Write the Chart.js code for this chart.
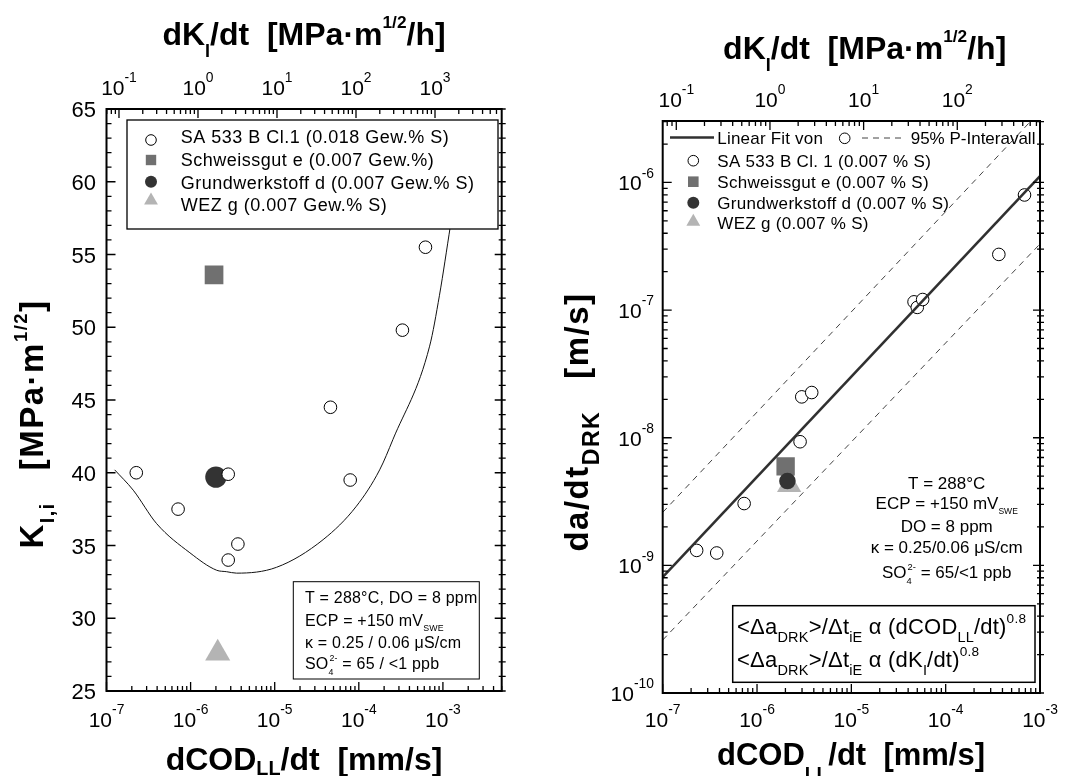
<!DOCTYPE html>
<html>
<head>
<meta charset="utf-8">
<title>K_I,i und da/dt über dCOD/dt</title>
<script src="https://cdn.jsdelivr.net/npm/chart.js@4.4.1/dist/chart.umd.min.js"></script>
<style>
  html, body { margin: 0; padding: 0; background: #fff; }
  #wrap { position: relative; width: 1066px; height: 776px; }
  canvas { position: absolute; left: 0; top: 0; }
</style>
</head>
<body>
<div id="wrap">
  <canvas id="kChart" width="1066" height="776"></canvas>
  <canvas id="vChart" width="1066" height="776"></canvas>
</div>
<script>
'use strict';

// ---- left panel: K_I,i vs. dCOD_LL/dt ----
const saKx = [2.26e-7, 7.1e-7, 2.8e-6, 2.8e-6, 3.65e-6, 4.6e-5, 7.9e-5, 3.3e-4, 6.2e-4];
const saKy = [40.0, 37.5, 39.9, 34.0, 35.1, 44.5, 39.5, 49.8, 55.5];
const sgKx = [1.9e-6];
const sgKy = [53.6];
const gwKx = [2.0e-6];
const gwKy = [39.7];
const wezKx = [2.1e-6];
const wezKy = [27.6];
// hand-traced trend curve
const kCurveX = [1.25e-7, 2.08e-7, 3.95e-7, 9.8e-7, 2.04e-6, 2.68e-6, 3.52e-6, 1.05e-5, 3.76e-5, 9.36e-5, 1.77e-4, 2.55e-4, 6.95e-4, 9.1e-4, 1.23e-3];
const kCurveY = [40.2, 38.8, 36.5, 34.5, 33.3, 33.2, 33.1, 33.5, 35.4, 37.7, 40.2, 42.3, 48.7, 52.2, 57.0];
const kLabels = ['SA 533 B Cl.1 (0.018 Gew.% S)', 'Schweissgut e (0.007 Gew.%)',
  'Grundwerkstoff d (0.007 Gew.% S)', 'WEZ g (0.007 Gew.% S)'];
const kTicks = [25, 30, 35, 40, 45, 50, 55, 60, 65];
const codDecL = [-7, -6, -5, -4, -3];
const dkDecL = [-1, 0, 1, 2, 3];

// ---- right panel: da/dt_DRK vs. dCOD_LL/dt ----
const saVx = [2.29e-7, 3.74e-7, 7.3e-7, 2.86e-6, 2.98e-6, 3.8e-6, 4.62e-5, 5.0e-5, 5.7e-5, 3.66e-4, 6.85e-4];
const saVy = [1.31e-9, 1.25e-9, 3.05e-9, 9.3e-9, 2.09e-8, 2.26e-8, 1.16e-7, 1.05e-7, 1.21e-7, 2.73e-7, 7.98e-7];
const sgVx = [2.01e-6];
const sgVy = [5.97e-9];
const gwVx = [2.1e-6];
const gwVy = [4.58e-9];
const wezVx = [2.19e-6];
const wezVy = [4.27e-9];
const fitX = [1e-7, 1e-3];
const fitY = [8.1e-10, 1.12e-6];
const upX = [1e-7, 7.9e-4];
const upY = [2.6e-9, 3.0e-6];
const loX = [1e-7, 1e-3];
const loY = [2.6e-10, 3.3e-7];
const vLabels = ['SA 533 B Cl. 1 (0.007 % S)', 'Schweissgut e (0.007 % S)',
  'Grundwerkstoff d (0.007 % S)', 'WEZ g (0.007 % S)'];
const vDec = [-10, -9, -8, -7, -6];
const codDecR = [-7, -6, -5, -4, -3];
const dkDecR = [-1, 0, 1, 2];

const pts = (xs, ys) => xs.map((x, i) => ({ x: x, y: ys[i] }));

function font(size, bold) {
  return (bold ? 'bold ' : '') + size + 'px "Liberation Sans", Arial, sans-serif';
}

// width of one piece of rich text; also leaves ctx.font set for it
function partWidth(ctx, p, size, bold) {
  if (typeof p === 'string') {
    ctx.font = font(size, bold);
    return ctx.measureText(p).width;
  }
  ctx.font = font(size * (p.k || 0.6), bold);
  const a = p.sub ? ctx.measureText(p.sub).width : 0;
  const b = p.sup ? ctx.measureText(p.sup).width + (p.sub ? size * 0.06 : 0) : 0;
  return Math.max(a, b);
}

// text with sub/superscripts, y is the baseline
function rich(ctx, parts, x, y, size, bold, align, spacing) {
  if (!Array.isArray(parts)) parts = [parts];
  ctx.letterSpacing = (spacing || 0) + 'px';
  let w = 0;
  parts.forEach(p => { w += partWidth(ctx, p, size, bold); });
  let cx = align === 'center' ? x - w / 2 : (align === 'right' ? x - w : x);
  ctx.textAlign = 'left';
  ctx.textBaseline = 'alphabetic';
  parts.forEach(p => {
    const pw = partWidth(ctx, p, size, bold);
    if (typeof p === 'string') {
      ctx.fillText(p, cx, y);
    } else {
      if (p.sub) ctx.fillText(p.sub, cx, y + size * (p.dy !== undefined ? p.dy : 0.3));
      if (p.sup) ctx.fillText(p.sup, cx + (p.sub ? size * 0.06 : 0), y - size * (p.up !== undefined ? p.up : 0.45));
    }
    cx += pw;
  });
  ctx.letterSpacing = '0px';
  return w;
}

function pow10(e) {
  return ['10', { sup: String(e), k: 0.66, up: 0.6 }];
}

function logTicks(min, max) {
  const out = [];
  for (let d = Math.floor(Math.log10(min)); d <= Math.ceil(Math.log10(max)); d++) {
    for (let m = 1; m < 10; m++) {
      const v = m * Math.pow(10, d);
      if (v >= min * 0.9999 && v <= max * 1.0001) out.push({ v: v, major: m === 1 });
    }
  }
  return out;
}

function marker(ctx, style, x, y, r, fill, stroke) {
  ctx.beginPath();
  if (style === 'circle') {
    ctx.arc(x, y, r, 0, Math.PI * 2);
  } else if (style === 'rect') {
    ctx.rect(x - r, y - r, 2 * r, 2 * r);
  } else {
    ctx.moveTo(x, y - r);
    ctx.lineTo(x + r * 0.866, y + r * 0.5);
    ctx.lineTo(x - r * 0.866, y + r * 0.5);
    ctx.closePath();
  }
  ctx.fillStyle = fill;
  ctx.fill();
  if (stroke) {
    ctx.lineWidth = 1;
    ctx.strokeStyle = stroke;
    ctx.stroke();
  }
}

// frame plus inward ticks on all four sides
function frame(chart, xTicks, topTicks, yTicks) {
  const { ctx, chartArea: a, scales } = chart;
  ctx.save();
  ctx.strokeStyle = '#000';
  ctx.lineWidth = 1.3;
  ctx.beginPath();
  xTicks.forEach(t => {
    const px = scales.x.getPixelForValue(t.v);
    ctx.moveTo(px, a.bottom);
    ctx.lineTo(px, a.bottom - (t.major ? 9 : 5));
  });
  topTicks.forEach(t => {
    const px = scales.xTop.getPixelForValue(t.v);
    ctx.moveTo(px, a.top);
    ctx.lineTo(px, a.top + (t.major ? 9 : 5));
  });
  yTicks.forEach(t => {
    const py = scales.y.getPixelForValue(t.v);
    const len = t.major ? 9 : 5;
    ctx.moveTo(a.left, py);
    ctx.lineTo(a.left + len, py);
    ctx.moveTo(a.right + 4, py);
    ctx.lineTo(a.right - len + 2, py);
  });
  ctx.stroke();
  ctx.lineWidth = 2;
  ctx.strokeRect(a.left, a.top, a.right - a.left, a.bottom - a.top);
  ctx.restore();
}

function rotated(ctx, parts, x, y, size, spacing) {
  ctx.save();
  ctx.translate(x, y);
  ctx.rotate(-Math.PI / 2);
  rich(ctx, parts, 0, 0, size, true, 'center', spacing);
  ctx.restore();
}

const kDecor = {
  id: 'kDecor',
  afterDraw(chart) {
    const { ctx, scales } = chart;
    const yTicks = [];
    for (let v = 25; v <= 65; v++) yTicks.push({ v: v, major: v % 5 === 0 });
    frame(chart, logTicks(scales.x.min, scales.x.max), logTicks(scales.xTop.min, scales.xTop.max), yTicks);

    ctx.save();
    ctx.fillStyle = '#000';
    codDecL.forEach(e => rich(ctx, pow10(e), scales.x.getPixelForValue(Math.pow(10, e)), 727, 21, false, 'center'));
    dkDecL.forEach(e => rich(ctx, pow10(e), scales.xTop.getPixelForValue(Math.pow(10, e)), 95, 21, false, 'center'));
    kTicks.forEach(v => rich(ctx, String(v), 96, scales.y.getPixelForValue(v) + 8, 22, false, 'right'));

    rich(ctx, ['dK', { sub: 'I', k: 0.56, dy: 0.36 }, '/dt  [MPa·m', { sup: '1/2', k: 0.54, up: 0.52 }, '/h]'], 304, 45, 32, true, 'center');
    rich(ctx, ['dCOD', { sub: 'LL', k: 0.62, dy: 0.17 }, '/dt  [mm/s]'], 304, 770, 32, true, 'center');
    rotated(ctx, ['K', { sub: 'I,i', k: 0.6, dy: 0.33 }, '   [MPa·m', { sup: '1/2', k: 0.56, up: 0.5 }, ']'], 43, 424, 33, 1.5);

    // legend
    ctx.fillStyle = '#fff';
    ctx.fillRect(127, 120, 371, 109);
    ctx.strokeStyle = '#000';
    ctx.lineWidth = 1.3;
    ctx.strokeRect(127, 120, 371, 109);
    const ds = chart.data.datasets;
    const rows = [140, 160, 181.7, 200.5];
    const base = [142.5, 165.5, 188.5, 210.5];
    const legR = [5.3, 5.2, 6, 8];
    ds.slice(0, 4).forEach((d, i) => {
      marker(ctx, d.pointStyle, 151, rows[i], legR[i], d.backgroundColor, d.borderWidth ? d.borderColor : null);
      ctx.fillStyle = '#000';
      rich(ctx, d.label, 180.7, base[i], 18, false, 'left', 0.5);
    });

    // conditions box
    ctx.fillStyle = '#fff';
    ctx.fillRect(293.3, 581.7, 186, 97.3);
    ctx.strokeRect(293.3, 581.7, 186, 97.3);
    ctx.fillStyle = '#000';
    rich(ctx, 'T = 288°C, DO = 8 ppm', 305, 602.5, 16, false, 'left', 0.2);
    rich(ctx, ['ECP = +150 mV', { sub: 'SWE', k: 0.55, dy: 0.3 }], 305, 626, 16, false, 'left', 0.2);
    rich(ctx, 'κ = 0.25 / 0.06 μS/cm', 305, 647.5, 16, false, 'left', 0.2);
    rich(ctx, ['SO', { sub: '4', sup: '2-', k: 0.55, dy: 0.35, up: 0.5 }, ' = 65 / <1 ppb'], 305, 669, 16, false, 'left', 0.2);
    ctx.restore();
  }
};

const vDecor = {
  id: 'vDecor',
  afterDraw(chart) {
    const { ctx, scales } = chart;
    frame(chart, logTicks(scales.x.min, scales.x.max), logTicks(scales.xTop.min, scales.xTop.max), logTicks(scales.y.min, scales.y.max));

    ctx.save();
    ctx.fillStyle = '#000';
    codDecR.forEach(e => rich(ctx, pow10(e), scales.x.getPixelForValue(Math.pow(10, e)), 727, 21, false, 'center'));
    dkDecR.forEach(e => rich(ctx, pow10(e), scales.xTop.getPixelForValue(Math.pow(10, e)), 106.7, 21, false, 'center'));
    vDec.forEach(e => rich(ctx, pow10(e), 654, scales.y.getPixelForValue(Math.pow(10, e)) + 8, 21, false, 'right'));

    rich(ctx, ['dK', { sub: 'I', k: 0.56, dy: 0.36 }, '/dt  [MPa·m', { sup: '1/2', k: 0.54, up: 0.52 }, '/h]'], 864.7, 59, 32, true, 'center');
    rich(ctx, ['dCOD', { sub: 'LL', k: 0.62, dy: 0.47 }, '/dt  [mm/s]'], 851, 765, 31, true, 'center');
    rotated(ctx, ['da/dt', { sub: 'DRK', k: 0.7, dy: 0.33 }, '   [m/s]'], 588, 422, 33, 1.5);

    // legend, first row: fit line, data symbol, prediction band
    ctx.strokeStyle = '#303030';
    ctx.lineWidth = 2.5;
    ctx.beginPath();
    ctx.moveTo(670, 137.5);
    ctx.lineTo(714, 137.5);
    ctx.stroke();
    ctx.fillStyle = '#000';
    rich(ctx, 'Linear Fit von', 717.3, 144, 17, false, 'left', 0.2);
    marker(ctx, 'circle', 844.7, 138.3, 5.3, '#fff', '#000');
    ctx.strokeStyle = '#444';
    ctx.lineWidth = 1;
    ctx.setLineDash([6, 5]);
    ctx.beginPath();
    ctx.moveTo(862, 138);
    ctx.lineTo(902, 138);
    ctx.stroke();
    ctx.setLineDash([]);
    ctx.fillStyle = '#000';
    rich(ctx, '95% P-Interavall', 910.7, 144, 17, false, 'left');

    const ds = chart.data.datasets;
    const rows = [160.7, 181.7, 202.7, 221.7];
    const base = [166.7, 187.7, 209.3, 229.3];
    const legR = [5.3, 5.3, 6, 8];
    ds.slice(3, 7).forEach((d, i) => {
      marker(ctx, d.pointStyle, 693.3, rows[i], legR[i], d.backgroundColor, d.borderWidth ? d.borderColor : null);
      ctx.fillStyle = '#000';
      rich(ctx, d.label, 717.3, base[i], 17, false, 'left', 0.3);
    });

    // test conditions
    const cx = 946.7;
    rich(ctx, 'T = 288°C', cx, 489, 17, false, 'center');
    rich(ctx, ['ECP = +150 mV', { sub: 'SWE', k: 0.5, dy: 0.3 }], cx, 509, 17, false, 'center');
    rich(ctx, 'DO = 8 ppm', cx, 532, 17, false, 'center');
    rich(ctx, 'κ = 0.25/0.06 μS/cm', cx, 553, 17, false, 'center');
    rich(ctx, ['SO', { sub: '4', sup: '2-', k: 0.55, dy: 0.35, up: 0.5 }, ' = 65/<1 ppb'], cx, 578, 17, false, 'center');

    // proportionality box
    ctx.fillStyle = '#fff';
    ctx.fillRect(732.7, 605.7, 302.3, 76.6);
    ctx.strokeStyle = '#000';
    ctx.lineWidth = 1.5;
    ctx.strokeRect(732.7, 605.7, 302.3, 76.6);
    ctx.fillStyle = '#000';
    const sub = s => ({ sub: s, k: 0.66, dy: 0.35 });
    rich(ctx, ['<Δa', sub('DRK'), '>/Δt', sub('iE'), ' α (dCOD', sub('LL'), '/dt)', { sup: '0.8', k: 0.62, up: 0.5 }], 737, 634, 22, false, 'left', 0.2);
    rich(ctx, ['<Δa', sub('DRK'), '>/Δt', sub('iE'), ' α (dK', sub('I'), '/dt)', { sup: '0.8', k: 0.62, up: 0.5 }], 737, 667, 22, false, 'left', 0.2);
    ctx.restore();
  }
};

const hidden = { display: false };

new Chart(document.getElementById('kChart'), {
  type: 'scatter',
  data: {
    datasets: [
      { label: kLabels[0], data: pts(saKx, saKy), pointStyle: 'circle', pointRadius: 6.3,
        backgroundColor: '#fff', borderColor: '#000', borderWidth: 1, order: 1 },
      { label: kLabels[1], data: pts(sgKx, sgKy), pointStyle: 'rect', pointRadius: 13.2,
        backgroundColor: '#707070', borderColor: '#707070', borderWidth: 0, order: 2 },
      { label: kLabels[2], data: pts(gwKx, gwKy), pointStyle: 'circle', pointRadius: 10.7,
        backgroundColor: '#333333', borderColor: '#333333', borderWidth: 0, order: 3 },
      { label: kLabels[3], data: pts(wezKx, wezKy), pointStyle: 'triangle', pointRadius: 14.5,
        backgroundColor: '#b4b4b4', borderColor: '#b4b4b4', borderWidth: 0, order: 4 },
      { label: 'Fit', data: pts(kCurveX, kCurveY), showLine: true, pointRadius: 0,
        borderColor: '#111', borderWidth: 1, cubicInterpolationMode: 'monotone', order: 5 }
    ]
  },
  options: {
    responsive: false,
    animation: false,
    layout: { padding: { left: 106.5, right: 1066 - 501.7, top: 109, bottom: 776 - 691 } },
    scales: {
      x: Object.assign({ type: 'logarithmic', min: 1e-7, max: 5e-3 }, hidden),
      xTop: Object.assign({ type: 'logarithmic', axis: 'x', position: 'top', min: 0.0695, max: 6985 }, hidden),
      y: Object.assign({ type: 'linear', min: 25, max: 65 }, hidden)
    },
    plugins: { legend: { display: false }, tooltip: { enabled: false } }
  },
  plugins: [kDecor]
});

new Chart(document.getElementById('vChart'), {
  type: 'scatter',
  data: {
    datasets: [
      { label: 'Linear Fit', data: pts(fitX, fitY), showLine: true, pointRadius: 0,
        borderColor: '#303030', borderWidth: 2.5, order: 1 },
      { label: '95% oben', data: pts(upX, upY), showLine: true, pointRadius: 0,
        borderColor: '#444', borderWidth: 1, borderDash: [6, 5], order: 2 },
      { label: '95% unten', data: pts(loX, loY), showLine: true, pointRadius: 0,
        borderColor: '#444', borderWidth: 1, borderDash: [6, 5], order: 2 },
      { label: vLabels[0], data: pts(saVx, saVy), pointStyle: 'circle', pointRadius: 6.3,
        backgroundColor: '#fff', borderColor: '#000', borderWidth: 1, order: 3 },
      { label: vLabels[1], data: pts(sgVx, sgVy), pointStyle: 'rect', pointRadius: 13,
        backgroundColor: '#707070', borderColor: '#707070', borderWidth: 0, order: 5 },
      { label: vLabels[2], data: pts(gwVx, gwVy), pointStyle: 'circle', pointRadius: 8.3,
        backgroundColor: '#333333', borderColor: '#333333', borderWidth: 0, order: 4 },
      { label: vLabels[3], data: pts(wezVx, wezVy), pointStyle: 'triangle', pointRadius: 14,
        backgroundColor: '#b4b4b4', borderColor: '#b4b4b4', borderWidth: 0, order: 6 }
    ]
  },
  options: {
    responsive: false,
    animation: false,
    layout: { padding: { left: 662.7, right: 1066 - 1040, top: 121, bottom: 776 - 693 } },
    scales: {
      x: Object.assign({ type: 'logarithmic', min: 1e-7, max: 1e-3 }, hidden),
      xTop: Object.assign({ type: 'logarithmic', axis: 'x', position: 'top', min: 0.0716, max: 764 }, hidden),
      y: Object.assign({ type: 'logarithmic', min: 1e-10, max: 3.03e-6 }, hidden)
    },
    plugins: { legend: { display: false }, tooltip: { enabled: false } }
  },
  plugins: [vDecor]
});
</script>
</body>
</html>
